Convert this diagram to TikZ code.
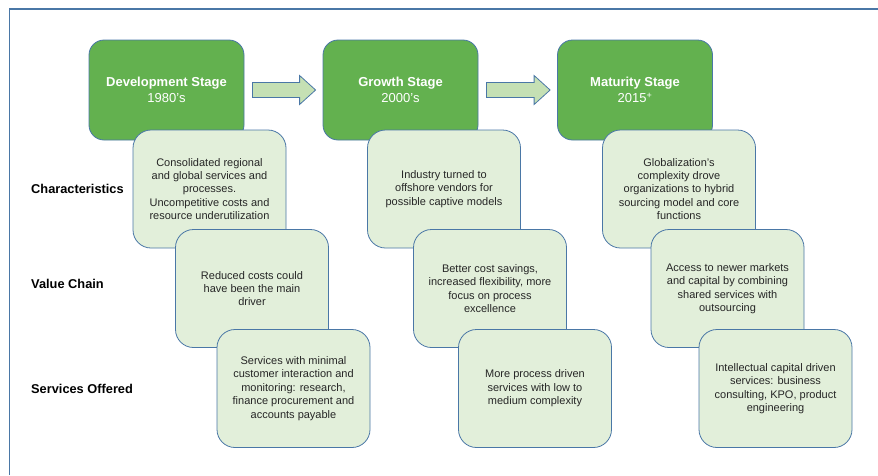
\documentclass[tikz,border=0pt]{standalone}
\usepackage{fontspec}
\setmainfont{Liberation Sans}
\usetikzlibrary{positioning,calc}

\definecolor{stagegreen}{HTML}{63B14F}
\definecolor{palegreen}{HTML}{E2EFDA}
\definecolor{arrowgreen}{HTML}{C5E0B4}
\definecolor{edgeblue}{HTML}{4A77A6}

\tikzset{
  stage/.style={draw=edgeblue, fill=stagegreen, line width=0.8pt, rounded corners=15pt,
    minimum width=155pt, minimum height=100pt, inner sep=0pt, align=center,
    text=white, font=\fontsize{13}{16}\selectfont\bfseries},
  info/.style={draw=edgeblue, fill=palegreen, line width=0.8pt, rounded corners=18pt,
    minimum width=153pt, minimum height=118pt, inner sep=0pt, align=center,
    text=black!85, font=\fontsize{11}{13.4}\selectfont},
  rowlabel/.style={anchor=west, inner sep=0pt, font=\fontsize{12.8}{15}\selectfont\bfseries},
  stagearrow/.style={draw=edgeblue, fill=arrowgreen, line width=0.8pt},
}

\begin{document}
\begin{tikzpicture}[x=1pt,y=-1pt]
  \useasboundingbox (0,0) rectangle (878,475);
  % outer frame, open to the right and bottom
  \draw[edgeblue, line width=1.1pt] (9.5,475) -- (9.5,9) -- (878,9);

  % stages
  \node[stage] (dev) at (166.5,90) {Development Stage\\{\mdseries 1980’s}};
  \node[stage] (growth) at (400.5,90) {Growth Stage\\{\mdseries 2000’s}};
  \node[stage] (mature) at (635,90) {Maturity Stage\\{\mdseries 2015\textsuperscript{+}}};

  \foreach \a/\b in {dev/growth, growth/mature}
    \draw[stagearrow] let \p1=($(\a.east)+(8pt,0)$), \p2=($(\b.west)+(-7pt,0)$) in
      (\x1,\y1+7.5pt) -- (\x2-16pt,\y1+7.5pt) -- (\x2-16pt,\y1+14.5pt) -- (\x2,\y1)
      -- (\x2-16pt,\y1-14.5pt) -- (\x2-16pt,\y1-7.5pt) -- (\x1,\y1-7.5pt) -- cycle;

  % row labels
  \node[rowlabel] (charlbl) at (31,189) {Characteristics};
  \node[rowlabel] (valuelbl) at (31,284) {Value Chain};
  \node[rowlabel] (servlbl) at (31,389) {Services Offered};

  % characteristics
  \node[info] (devchar) at (209.5,189) {Consolidated regional\\and global services and\\processes.\\Uncompetitive costs and\\resource underutilization};
  \node[info] (growchar) at (444,189) {Industry turned to\\offshore vendors for\\possible captive models};
  \node[info] (matchar) at (679,189) {Globalization’s\\complexity drove\\organizations to hybrid\\sourcing model and core\\functions};

  % value chain
  \node[info] (devvalue) at (252,288.5) {Reduced costs could\\have been the main\\driver};
  \node[info] (growvalue) at (490,288.5) {Better cost savings,\\increased flexibility, more\\focus on process\\excellence};
  \node[info] (matvalue) at (727.5,288.5) {Access to newer markets\\and capital by combining\\shared services with\\outsourcing};

  % services offered
  \node[info] (devserv) at (293.5,388.5) {Services with minimal\\customer interaction and\\monitoring: research,\\finance procurement and\\accounts payable};
  \node[info] (growserv) at (535,388.5) {More process driven\\services with low to\\medium complexity};
  \node[info] (matserv) at (775.5,388.5) {Intellectual capital driven\\services: business\\consulting, KPO, product\\engineering};
\end{tikzpicture}
\end{document}
